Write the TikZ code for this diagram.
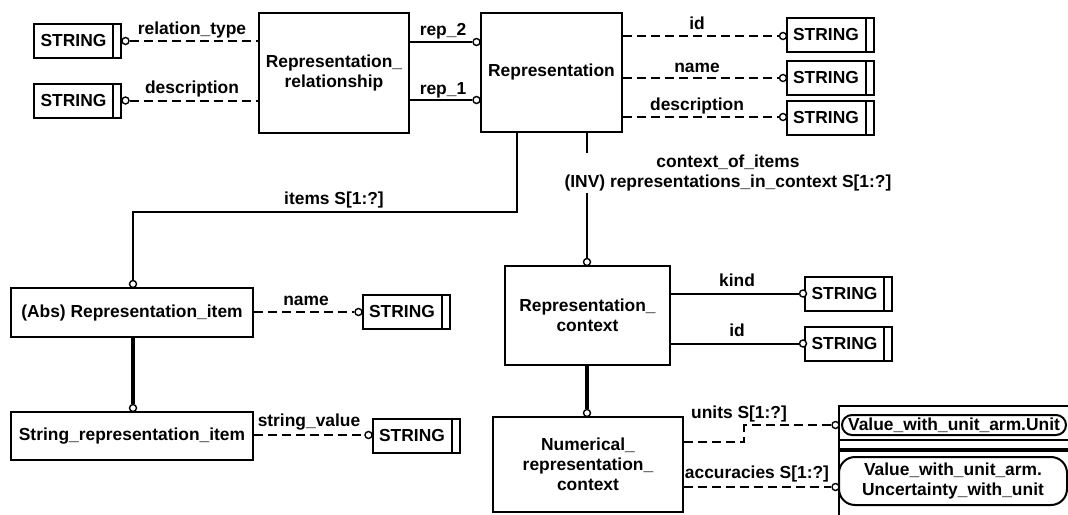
\documentclass[tikz,border=0pt]{standalone}
\usepackage{fontspec}
\setmainfont{Liberation Sans}
\newcommand\labfont{\fontsize{17.4}{20}\selectfont\bfseries}
\begin{document}
\begin{tikzpicture}[x=1pt,y=-1pt,
  ent/.style={draw,line width=2pt,inner sep=2pt,align=center,font=\labfont},
  strbox/.style={draw,line width=2pt,minimum width=87pt,minimum height=34pt,inner sep=0pt,font=\labfont},
  oc/.style={circle,draw,line width=1.4pt,fill=white,minimum size=7pt,inner sep=0pt},
  rel/.style={line width=2pt},
  opt/.style={line width=2pt,dash pattern=on 9pt off 5pt},
  sub/.style={line width=3.8pt},
  lbl/.style={font=\labfont,inner sep=0pt,anchor=base},
  refbox/.style={draw,line width=2pt,rounded corners=10pt,inner sep=0pt,align=center,font=\labfont}
]
\useasboundingbox (0,0) rectangle (1068,514);
\clip (0,0) rectangle (1068,514);

% entities
\node[ent,minimum width=150pt,minimum height=120pt] (rr) at (334,73) {Representation\_\\relationship};
\node[ent,minimum width=141pt,minimum height=119pt] (rep) at (551.5,72.5) {Representation};
\node[ent,minimum width=242pt,minimum height=49pt] (abs) at (132,312.5) {(Abs) Representation\_item};
\node[ent,minimum width=242pt,minimum height=48pt] (stri) at (132,436) {String\_representation\_item};
\node[ent,minimum width=165pt,minimum height=99pt] (ctx) at (587.5,315.5) {Representation\_\\context};
\node[ent,minimum width=190pt,minimum height=95pt] (num) at (588,464.5) {Numerical\_\\representation\_\\context};

% STRING boxes
\node[strbox] (s1) at (77.5,41) {STRING\hspace*{8pt}};
\node[strbox] (s2) at (77.5,100.5) {STRING\hspace*{8pt}};
\node[strbox] (sid) at (830,35) {STRING\hspace*{8pt}};
\node[strbox] (sname) at (830,77.5) {STRING\hspace*{8pt}};
\node[strbox] (sdesc) at (830,117.5) {STRING\hspace*{8pt}};
\node[strbox] (sn) at (406,311.5) {STRING\hspace*{8pt}};
\node[strbox] (ssv) at (416,435.5) {STRING\hspace*{8pt}};
\node[strbox] (skind) at (848.5,293.5) {STRING\hspace*{8pt}};
\node[strbox] (sidc) at (848.5,343.5) {STRING\hspace*{8pt}};
\foreach \n in {s1,s2,sid,sname,sdesc,sn,ssv,skind,sidc}
  \draw[line width=2pt] ([xshift=-9pt]\n.north east) -- ([xshift=-9pt]\n.south east);

% external reference frame
\draw[line width=2pt] (1075,406) -- (839,406) -- (839,520);
\draw[line width=1.4pt] (839,440) -- (1075,440);
\draw[line width=4pt] (839,450) -- (1075,450);
\node[refbox,minimum width=224pt,minimum height=20pt] (vu) at (954,425) {Value\_with\_unit\_arm.Unit};
\node[refbox,rounded corners=16pt,minimum width=228pt,minimum height=48pt] (vuu) at (953,481) {Value\_with\_unit\_arm.\\Uncertainty\_with\_unit};

% circles
\node[oc] (cs1) at (125.5,41) {};
\node[oc] (cs2) at (125.5,100.5) {};
\node[oc] (crep2) at (476.5,42) {};
\node[oc] (crep1) at (476.5,100) {};
\node[oc] (cid) at (783,36) {};
\node[oc] (cname) at (783,78) {};
\node[oc] (cdesc) at (783,117) {};
\node[oc] (cabs) at (133,284) {};
\node[oc] (cstri) at (133,408) {};
\node[oc] (cn) at (358.5,312) {};
\node[oc] (csv) at (368.5,435) {};
\node[oc] (cctx) at (587,262) {};
\node[oc] (cnum) at (587,413) {};
\node[oc] (ckind) at (803,293.5) {};
\node[oc] (cidc) at (803,343.5) {};
\node[oc] (cu) at (835.5,425) {};
\node[oc] (ca) at (835.5,487) {};

% connectors
\draw[opt] (cs1) -- (cs1 -| rr.west);
\draw[opt] (cs2) -- (cs2 -| rr.west);
\draw[rel] (rr.east |- crep2) -- (crep2);
\draw[rel] (rr.east |- crep1) -- (crep1);
\draw[opt] (rep.east |- cid) -- (cid);
\draw[opt] (rep.east |- cname) -- (cname);
\draw[opt] (rep.east |- cdesc) -- (cdesc);
\coordinate (itemsbend) at (517,212);
\draw[rel] (rep.south -| itemsbend) -- (itemsbend) -| (cabs);
\draw[rel] (rep.south -| cctx) -- (cctx);
\draw[opt] (abs.east |- cn) -- (cn);
\draw[sub] (abs.south -| cstri) -- (cstri);
\draw[opt] (stri.east |- csv) -- (csv);
\draw[rel] (ctx.east |- ckind) -- (ckind);
\draw[rel] (ctx.east |- cidc) -- (cidc);
\draw[sub] (ctx.south -| cnum) -- (cnum);
\draw[opt] ([yshift=23pt]num.east) -- ++(60,0) |- (cu);
\draw[opt] (num.east |- ca) -- (ca);

% labels
\node[lbl] (lrt) at (192,34) {relation\_type};
\node[lbl] (ld1) at (192,93) {description};
\node[lbl] (lr2) at (443,35) {rep\_2};
\node[lbl] (lr1) at (443,94) {rep\_1};
\node[lbl] (lid) at (697,29) {id};
\node[lbl] (lname) at (697,72) {name};
\node[lbl] (ld2) at (697,110) {description};
\node[lbl] (litems) at (334,204) {items S[1:?]};
\node[font=\labfont,fill=white,inner sep=2pt,align=center] (lctx) at (728,173) {context\_of\_items\\(INV) representations\_in\_context S[1:?]};
\node[lbl] (lan) at (306,305) {name};
\node[lbl] (lsv) at (309,426) {string\_value};
\node[lbl] (lkind) at (737,286) {kind};
\node[lbl] (lidc) at (737,336) {id};
\node[lbl] (lunits) at (739,418) {units S[1:?]};
\node[lbl] (lacc) at (757,478) {accuracies S[1:?]};
\end{tikzpicture}
\end{document}
